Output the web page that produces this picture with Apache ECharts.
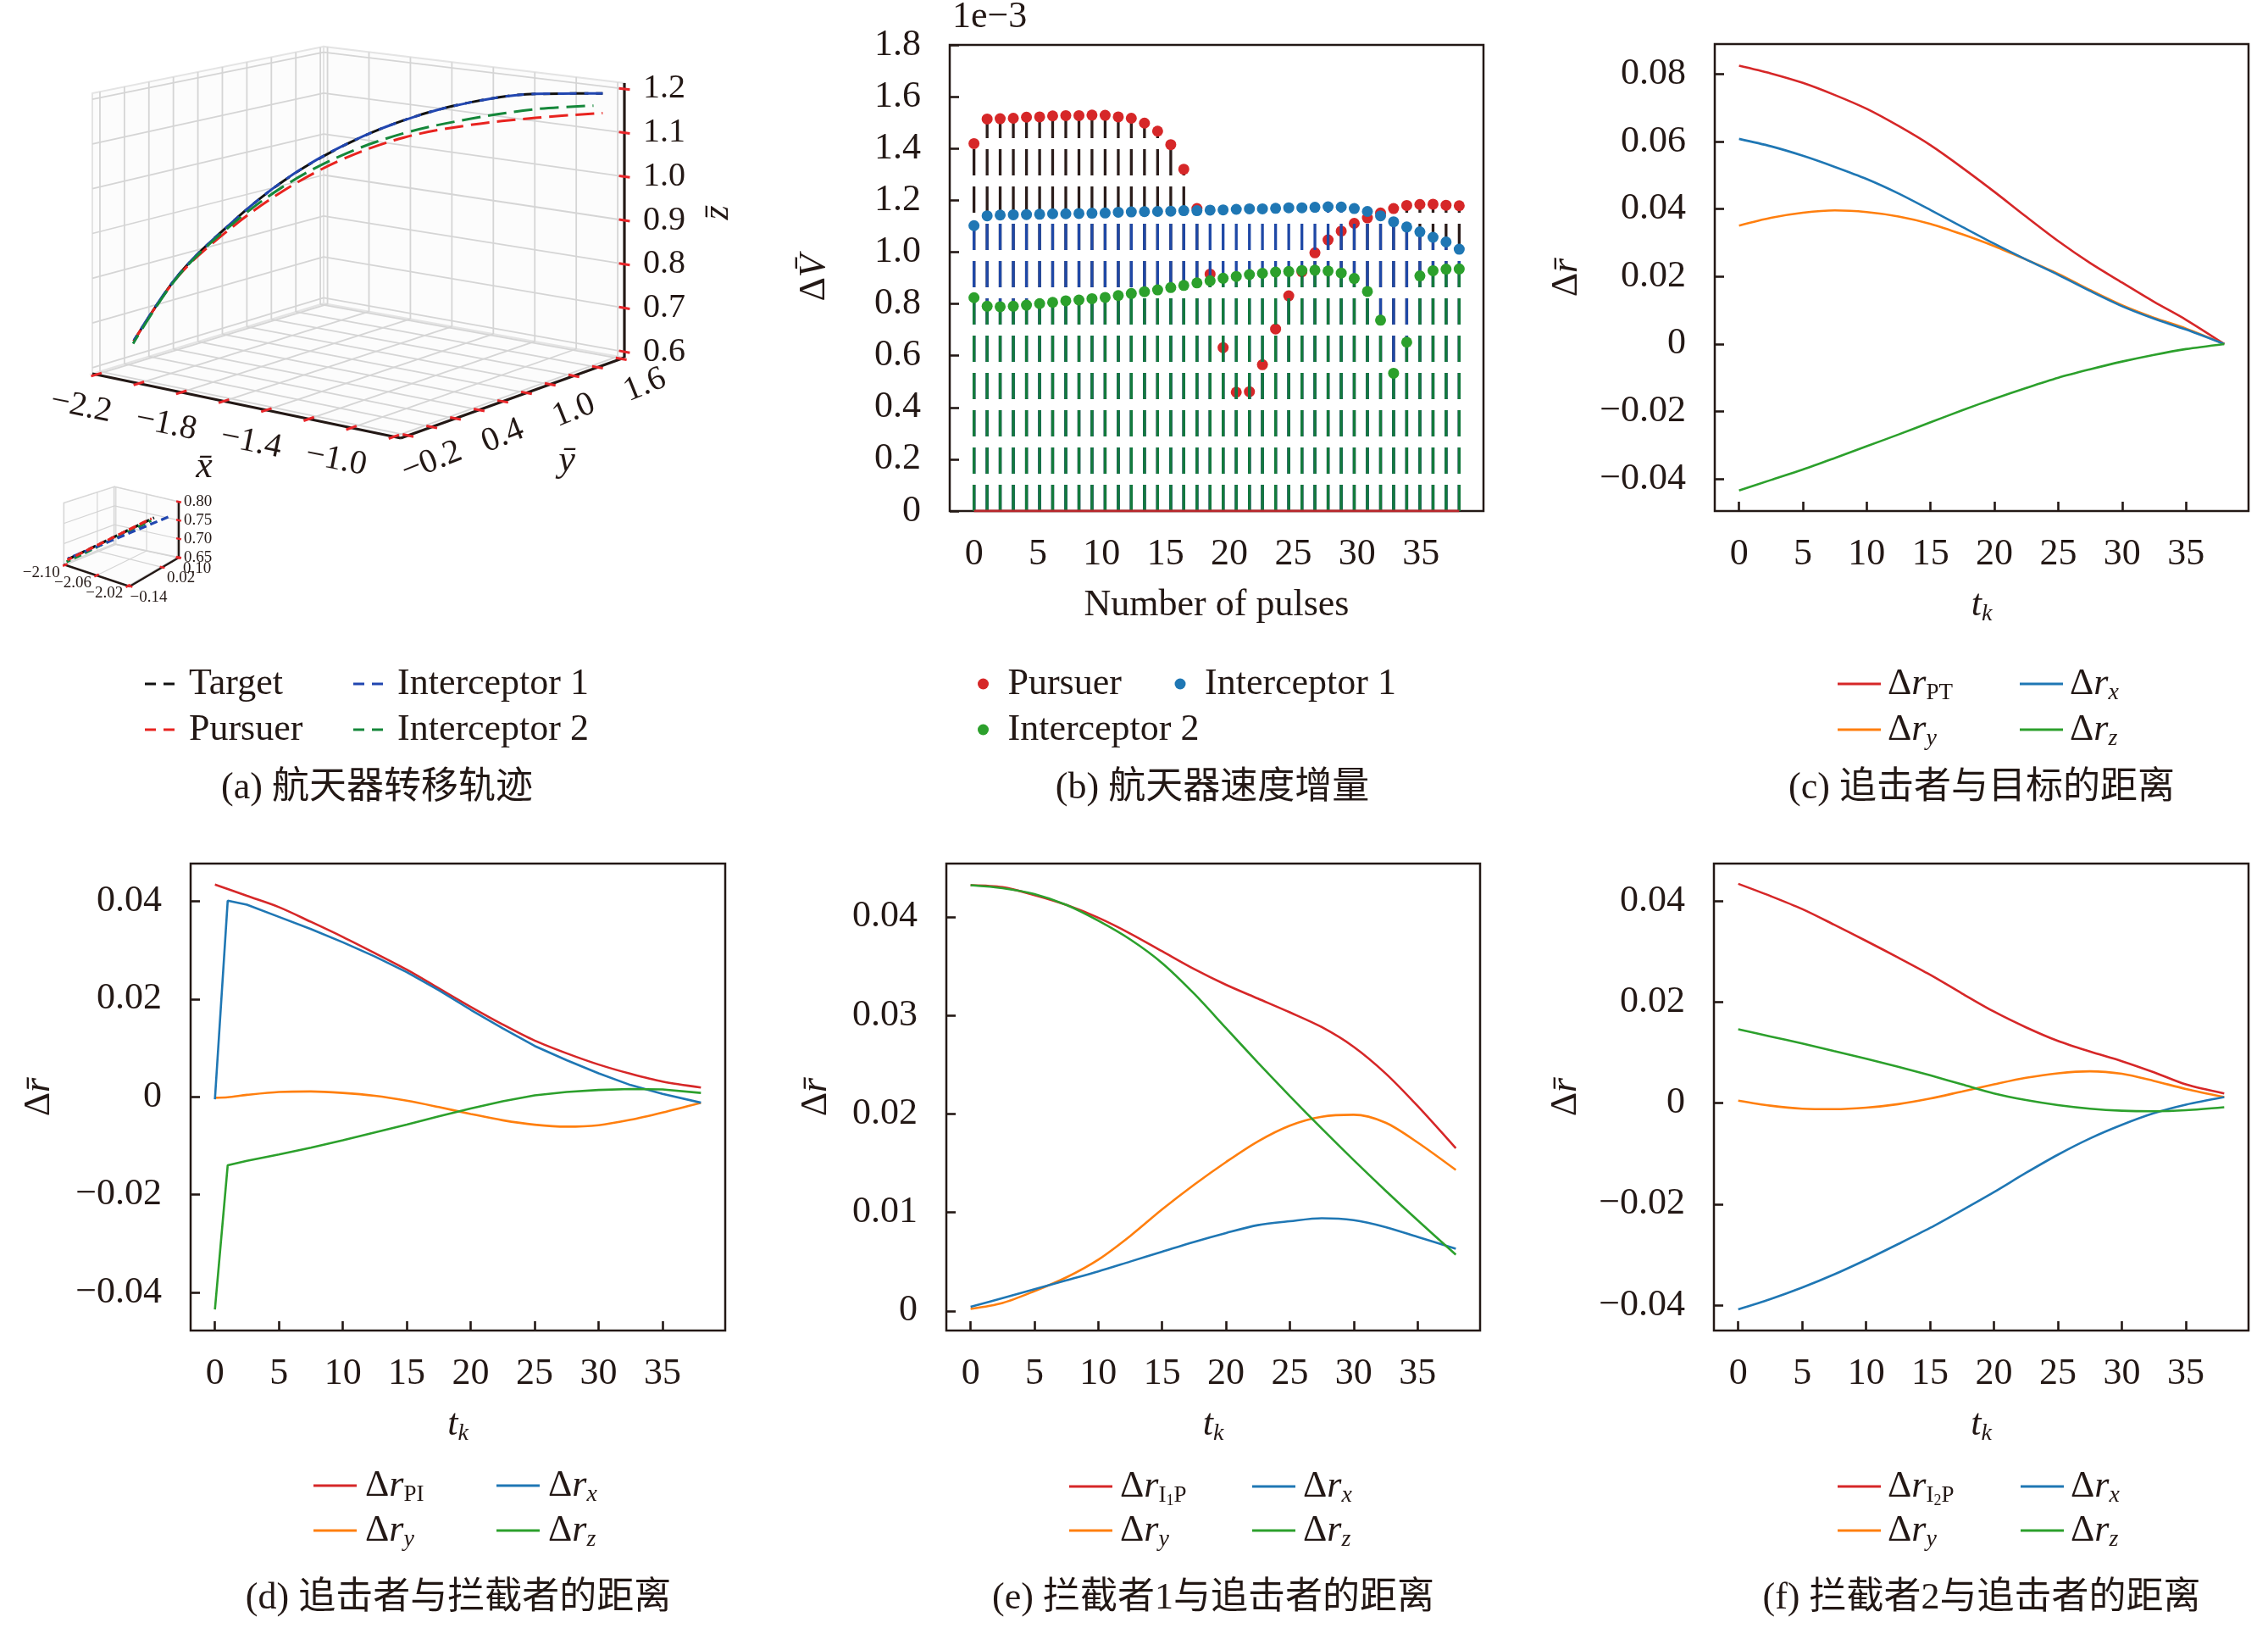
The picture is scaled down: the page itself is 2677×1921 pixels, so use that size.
<!DOCTYPE html>
<html><head><meta charset="utf-8">
<script src="https://cdn.jsdelivr.net/npm/echarts@6/dist/echarts.min.js"></script>
<style>html,body{margin:0;padding:0;background:#fff}#c{width:2677px;height:1921px}</style>
</head><body><div id="c"></div>
<script>
// ================= DATA =================
// (a) spacecraft transfer trajectories, points [x̄, ȳ, z̄]
const trajTarget = [[-2.100,-0.130,0.660],[-2.046,0.133,0.790],[-1.958,0.382,0.890],[-1.837,0.623,0.985],[-1.686,0.852,1.062],[-1.507,1.064,1.122],[-1.304,1.256,1.163],[-1.080,1.426,1.185],[-0.840,1.570,1.190]];
const trajPursuer = [[-2.100,-0.130,0.660],[-2.046,0.133,0.788],[-1.958,0.382,0.880],[-1.837,0.623,0.963],[-1.686,0.852,1.032],[-1.507,1.064,1.082],[-1.304,1.256,1.111],[-1.080,1.426,1.130],[-0.840,1.570,1.145]];
const trajInt1 = [[-2.100,-0.128,0.662],[-2.046,0.135,0.791],[-1.957,0.384,0.891],[-1.836,0.625,0.986],[-1.685,0.853,1.063],[-1.506,1.065,1.122],[-1.303,1.257,1.163],[-1.079,1.427,1.185],[-0.838,1.572,1.190]];
const trajInt2 = [[-2.100,-0.135,0.655],[-2.046,0.133,0.788],[-1.958,0.382,0.886],[-1.837,0.623,0.973],[-1.686,0.852,1.042],[-1.507,1.064,1.092],[-1.304,1.256,1.125],[-1.080,1.426,1.150],[-0.870,1.545,1.162]];
// inset: start of the trajectories
const insetTarget = [[-2.100,-0.130,0.660],[-2.043,0.075,0.752]];
const insetPursuer = [[-2.100,-0.131,0.659],[-2.045,0.070,0.750]];
const insetInt1 = [[-2.100,-0.128,0.662],[-2.030,0.100,0.755]];
const insetInt2 = [[-2.100,-0.135,0.655],[-2.045,0.068,0.745]];
// 3D ticks
const xTicks3D = [-2.2,-2.0,-1.8,-1.6,-1.4,-1.2,-1.0,-0.8];
const xLabels3D = [-2.2,-1.8,-1.4,-1.0];
const yTicks3D = [-0.2,0,0.2,0.4,0.6,0.8,1.0,1.2,1.4,1.6];
const yLabels3D = [-0.2,0.4,1.0,1.6];
const zTicks3D = [0.6,0.7,0.8,0.9,1.0,1.1,1.2];
const xTicksIn = [-2.10,-2.06,-2.02];
const yTicksIn = [-0.14,0.02,0.10];
const zTicksIn = [0.65,0.70,0.75,0.80];

// (b) velocity increments (x 1e-3)
const pulseX = [0,1.03,2.05,3.08,4.11,5.14,6.16,7.19,8.22,9.24,10.27,11.30,12.32,13.35,14.38,15.41,16.43,17.46,18.49,19.51,20.54,21.57,22.59,23.62,24.65,25.68,26.70,27.73,28.76,29.78,30.81,31.84,32.86,33.89,34.92,35.95,36.97,38.00];
const dvPursuer = [1.419,1.514,1.515,1.517,1.521,1.522,1.526,1.527,1.527,1.529,1.528,1.522,1.517,1.498,1.467,1.415,1.320,1.168,0.915,0.631,0.459,0.461,0.565,0.703,0.831,0.924,0.997,1.047,1.081,1.111,1.132,1.151,1.168,1.180,1.184,1.185,1.181,1.179];
const dvInt1 = [1.102,1.140,1.143,1.144,1.145,1.146,1.148,1.148,1.149,1.150,1.151,1.154,1.155,1.156,1.157,1.158,1.160,1.160,1.162,1.163,1.165,1.167,1.167,1.169,1.171,1.171,1.173,1.175,1.174,1.168,1.157,1.140,1.117,1.097,1.078,1.057,1.039,1.011];
const dvInt2 = [0.824,0.791,0.789,0.791,0.795,0.801,0.806,0.812,0.815,0.820,0.825,0.832,0.840,0.847,0.854,0.863,0.871,0.881,0.889,0.899,0.906,0.913,0.918,0.923,0.925,0.929,0.930,0.927,0.919,0.898,0.848,0.737,0.532,0.652,0.908,0.928,0.934,0.935];
const yTicksB = [0,0.2,0.4,0.6,0.8,1.0,1.2,1.4,1.6,1.8];

// time samples
const tk = [0,2.5,5,7.5,10,12.5,15,17.5,20,22.5,25,27.5,30,32.5,35,38];
const tkD = [0,1,2.5,5,7.5,10,12.5,15,17.5,20,22.5,25,27.5,30,32.5,35,38];
const xTicksT = [0,5,10,15,20,25,30,35];

// (c) pursuer - target
const cPT = [0.0825,0.0802,0.0774,0.0738,0.0697,0.0646,0.0589,0.0522,0.0451,0.0377,0.0305,0.0240,0.0182,0.0125,0.0072,0.0000];
const cX  = [0.0608,0.0586,0.0558,0.0525,0.0489,0.0446,0.0397,0.0347,0.0297,0.0250,0.0205,0.0157,0.0112,0.0075,0.0043,0.0000];
const cY  = [0.0351,0.0374,0.0389,0.0396,0.0391,0.0378,0.0356,0.0325,0.0290,0.0250,0.0208,0.0160,0.0115,0.0078,0.0046,0.0000];
const cZ  = [-0.0434,-0.0403,-0.0372,-0.0338,-0.0303,-0.0268,-0.0232,-0.0196,-0.0162,-0.0130,-0.0100,-0.0075,-0.0052,-0.0032,-0.0015,0.0000];
const yTicksC = [-0.04,-0.02,0,0.02,0.04,0.06,0.08];
// (d) pursuer - interceptor
const dPI = [0.0434,0.0425,0.0411,0.0388,0.0358,0.0327,0.0294,0.0260,0.0222,0.0184,0.0148,0.0115,0.0089,0.0066,0.0047,0.0031,0.0019];
const dX  = [-0.0005,0.0401,0.0393,0.0368,0.0343,0.0316,0.0287,0.0255,0.0218,0.0178,0.0140,0.0104,0.0075,0.0048,0.0024,0.0006,-0.0012];
const dY  = [-0.0002,-0.0001,0.0004,0.0010,0.0011,0.0008,0.0002,-0.0008,-0.0021,-0.0035,-0.0048,-0.0057,-0.0061,-0.0058,-0.0047,-0.0032,-0.0012];
const dZ  = [-0.0435,-0.0140,-0.0131,-0.0118,-0.0104,-0.0089,-0.0073,-0.0057,-0.0040,-0.0024,-0.0009,0.0003,0.0010,0.0014,0.0016,0.0015,0.0008];
const yTicksD = [-0.04,-0.02,0,0.02,0.04];
// (e) interceptor 1 - pursuer
const eIP = [0.0432,0.0430,0.0422,0.0412,0.0399,0.0383,0.0365,0.0347,0.0331,0.0317,0.0303,0.0288,0.0268,0.0241,0.0208,0.0165];
const eX  = [0.0004,0.0013,0.0022,0.0031,0.0040,0.0050,0.0060,0.0070,0.0079,0.0087,0.0091,0.0094,0.0092,0.0085,0.0075,0.0063];
const eY  = [0.0002,0.0008,0.0020,0.0034,0.0052,0.0076,0.0103,0.0128,0.0151,0.0172,0.0188,0.0197,0.0199,0.0191,0.0171,0.0143];
const eZ  = [0.0432,0.0429,0.0423,0.0412,0.0396,0.0377,0.0353,0.0322,0.0287,0.0252,0.0218,0.0185,0.0153,0.0122,0.0092,0.0057];
const yTicksE = [0,0.01,0.02,0.03,0.04];
// (f) interceptor 2 - pursuer
const fIP = [0.0434,0.0410,0.0384,0.0353,0.0321,0.0288,0.0254,0.0217,0.0181,0.0150,0.0123,0.0102,0.0083,0.0061,0.0037,0.0019];
const fX  = [-0.0408,-0.0388,-0.0365,-0.0339,-0.0310,-0.0279,-0.0247,-0.0212,-0.0176,-0.0138,-0.0102,-0.0070,-0.0043,-0.0020,-0.0003,0.0012];
const fY  = [0.0005,-0.0005,-0.0011,-0.0012,-0.0009,-0.0002,0.0009,0.0023,0.0037,0.0050,0.0059,0.0063,0.0058,0.0044,0.0028,0.0012];
const fZ  = [0.0146,0.0132,0.0118,0.0103,0.0088,0.0072,0.0055,0.0037,0.0019,0.0006,-0.0004,-0.0011,-0.0015,-0.0016,-0.0014,-0.0008];
const yTicksF = [-0.04,-0.02,0,0.02,0.04];

const captions = ['(a) 航天器转移轨迹','(b) 航天器速度增量','(c) 追击者与目标的距离','(d) 追击者与拦截者的距离','(e) 拦截者1与追击者的距离','(f) 拦截者2与追击者的距离'];

// ================= STYLE / LAYOUT =================
const INK = '#231815';
const SERIF = "'Liberation Serif','DejaVu Serif',serif";
const CAPF = "'Liberation Serif','Noto Sans CJK SC',serif";
const COL = {red:'#d62728', blue:'#1f77b4', orange:'#ff7f0e', green:'#2ca02c'};
const C3 = {k:'#111111', r:'#e8231f', b:'#2146b0', g:'#15873a'};
const STEM = {p:'#2a1c1a', i1:'#1f48a6', i2:'#137a3c'};

// 3D view (projection layout in view units of the hidden grid 0)
const VIEW = {
  main: {x:[-2.2187,-0.7677], y:[-0.262,1.627], z:[0.5865,1.2135],
         corners:[[109,441],[473,517],[737,422],[382,358]], heights:[331,345,324,303],
         gridW:1.8, edgeW:2, axisW:3.2, tickL:13, tickW:3, font:40,
         xOff:[-18,38], xRot:-0.2, yOff:[28,31], yRot:0.38, zOff:[22,0]},
  inset:{x:[-2.102,-2.018], y:[-0.142,0.102], z:[0.649,0.801],
         corners:[[75,666],[153,692],[211,658],[135,642]], heights:[72.7,75,66.3,68],
         gridW:1.2, edgeW:1.2, axisW:2.5, tickL:6, tickW:2.5, font:19,
         xOff:[-28,9], xRot:0, yOff:[22,13], yRot:0, zOff:[6,0]}
};
function project(B, p){
  const X=(p[0]-B.x[0])/(B.x[1]-B.x[0]), Y=(p[1]-B.y[0])/(B.y[1]-B.y[0]), Z=(p[2]-B.z[0])/(B.z[1]-B.z[0]);
  const w=[(1-X)*(1-Y), X*(1-Y), X*Y, (1-X)*Y];
  let u=0,v=0,h=0;
  for(let i=0;i<4;i++){u+=w[i]*B.corners[i][0]; v+=w[i]*B.corners[i][1]; h+=w[i]*B.heights[i];}
  return [u, v - Z*h];
}
const fmtN = (v,d) => (v<0?'−':'') + Math.abs(v).toFixed(d);

function boxElements(api, B, ticks, labels, showTitles){
  const P = p => api.coord(project(B,p));
  const els = [];
  const [x0,x1]=B.x, [y0,y1]=B.y, [z0,z1]=B.z;
  const seg=(a,b,style)=>{const p=P(a),q=P(b);els.push({type:'line',shape:{x1:p[0],y1:p[1],x2:q[0],y2:q[1]},style});};
  const poly=pts=>els.push({type:'polygon',shape:{points:pts.map(P)},style:{fill:'#fcfcfc',stroke:'#e4e4e4',lineWidth:B.edgeW}});
  poly([[x0,y0,z0],[x1,y0,z0],[x1,y1,z0],[x0,y1,z0]]);
  poly([[x0,y0,z0],[x0,y1,z0],[x0,y1,z1],[x0,y0,z1]]);
  poly([[x0,y1,z0],[x1,y1,z0],[x1,y1,z1],[x0,y1,z1]]);
  const g={stroke:'#d5d5d5',lineWidth:B.gridW};
  ticks.x.forEach(x=>{seg([x,y0,z0],[x,y1,z0],g);seg([x,y1,z0],[x,y1,z1],g);});
  ticks.y.forEach(y=>{seg([x0,y,z0],[x1,y,z0],g);seg([x0,y,z0],[x0,y,z1],g);});
  ticks.z.forEach(z=>{seg([x0,y0,z],[x0,y1,z],g);seg([x0,y1,z],[x1,y1,z],g);});
  const ax={stroke:INK,lineWidth:B.axisW};
  seg([x0,y0,z0],[x1,y0,z0],ax); seg([x1,y0,z0],[x1,y1,z0],ax); seg([x1,y1,z0],[x1,y1,z1],ax);
  const tk=(p,q)=>{const a=P(p),b=P(q);let dx=b[0]-a[0],dy=b[1]-a[1];const L=Math.hypot(dx,dy)||1;dx*=B.tickL/2/L;dy*=B.tickL/2/L;
    els.push({type:'line',shape:{x1:a[0]-dx,y1:a[1]-dy,x2:a[0]+dx,y2:a[1]+dy},style:{stroke:'#e8262a',lineWidth:B.tickW}});};
  const ddx=(x1-x0)*0.05, ddy=(y1-y0)*0.05;
  ticks.x.forEach(x=>tk([x,y0,z0],[x,y0+ddy,z0]));
  ticks.y.forEach(y=>tk([x1,y,z0],[x1-ddx,y,z0]));
  ticks.z.forEach(z=>tk([x1,y1,z],[x1-ddx,y1,z]));
  const txt=(pt,off,rot,s,align)=>els.push({type:'text',x:pt[0]+off[0],y:pt[1]+off[1],rotation:rot,
    style:{text:s,fill:INK,fontSize:B.font,fontFamily:SERIF,align:align||'center',verticalAlign:'middle',textAlign:align||'center',textVerticalAlign:'middle'}});
  labels.x.forEach(v=>txt(P([v,y0,z0]),B.xOff,B.xRot,fmtN(v,labels.d)));
  labels.y.forEach(v=>txt(P([x1,v,z0]),B.yOff,B.yRot,fmtN(v,labels.d)));
  labels.z.forEach(v=>txt(P([x1,y1,v]),B.zOff,0,fmtN(v,labels.d),'left'));
  if(showTitles){
    const it=(pt,off,rot,s)=>els.push({type:'text',x:pt[0]+off[0],y:pt[1]+off[1],rotation:rot,
      style:{text:s,fill:INK,fontSize:44,fontStyle:'italic',fontFamily:SERIF,align:'center',verticalAlign:'middle',textAlign:'center',textVerticalAlign:'middle'}});
    it(P([(x0+x1)/2,y0,z0]),[-50,72],0,'x\u0304');
    it(P([x1,(y0+y1)/2,z0]),[64,75],0,'y\u0304');
    it(P([x1,y1,(z0+z1)/2]),[110,-9],Math.PI/2,'z\u0304');
  }
  return els;
}

const RICH = {
  d:{fontFamily:SERIF,fontSize:44,color:INK,lineHeight:50,verticalAlign:'middle'},
  r:{fontFamily:SERIF,fontSize:44,fontStyle:'italic',color:INK,lineHeight:50,verticalAlign:'middle'},
  s:{fontFamily:SERIF,fontSize:27,color:INK,lineHeight:26,padding:[22,0,0,0],verticalAlign:'middle'},
  si:{fontFamily:SERIF,fontSize:28,fontStyle:'italic',color:INK,lineHeight:26,padding:[22,0,0,0],verticalAlign:'middle'},
  ss:{fontFamily:SERIF,fontSize:18,color:INK,lineHeight:18,padding:[34,0,0,0],verticalAlign:'middle'}
};
const LEG_TXT = {
  'Target':'Target','Pursuer':'Pursuer','Interceptor 1':'Interceptor 1','Interceptor 2':'Interceptor 2',
  'b:Pursuer':'Pursuer','b:Interceptor 1':'Interceptor 1','b:Interceptor 2':'Interceptor 2',
  'c:PT':'{d|Δ}{r|r}{s|PT}','d:PI':'{d|Δ}{r|r}{s|PI}',
  'e:IP':'{d|Δ}{r|r}{s|I}{ss|1}{s|P}','f:IP':'{d|Δ}{r|r}{s|I}{ss|2}{s|P}'
};
['c','d','e','f'].forEach(p=>{LEG_TXT[p+':x']='{d|Δ}{r|r}{si|x}';LEG_TXT[p+':y']='{d|Δ}{r|r}{si|y}';LEG_TXT[p+':z']='{d|Δ}{r|r}{si|z}';});

const ICON_LINE = 'path://M0,0H51V3H0Z';
const ICON_DASH = 'path://M0,0H13V3H0Z M22,0H35V3H22Z';
function legendRow(left, top, names, iconW, iconH, pad, textW, icon){
  return {left, top, orient:'horizontal', itemWidth:iconW, itemHeight:iconH, itemGap:10, selectedMode:false,
    data:names.map(n=>({name:n, icon})), formatter:n=>LEG_TXT[n],
    textStyle:{fontFamily:SERIF,fontSize:44,color:INK,lineHeight:50,width:textW,padding:[0,0,0,pad],rich:RICH}};
}

function xAxisCfg(gi, showTick, nameTxt){
  return {type:'value', gridIndex:gi, min:-1.9, max:39.9,
    axisLine:{show:false, onZero:false}, splitLine:{show:false},
    axisTick:{show:showTick, inside:true, length:11, lineStyle:{color:INK,width:2.6}, customValues:xTicksT},
    axisLabel:{customValues:xTicksT, margin:29, fontSize:44, fontFamily:SERIF, color:INK, formatter:v=>String(v)},
    name:nameTxt, nameLocation:'middle', nameGap:111,
    nameTextStyle:{fontFamily:SERIF,fontSize:44,color:INK,verticalAlign:'middle',rich:{
      t:{fontFamily:SERIF,fontSize:44,fontStyle:'italic',color:INK,lineHeight:50,verticalAlign:'middle'},
      k:{fontFamily:SERIF,fontSize:28,fontStyle:'italic',color:INK,lineHeight:26,padding:[22,0,0,0],verticalAlign:'middle'}}}};
}
function yAxisCfg(gi, min, max, ticks, dec, nameTxt, gap){
  return {type:'value', gridIndex:gi, min, max,
    axisLine:{show:false, onZero:false}, splitLine:{show:false},
    axisTick:{show:true, inside:true, length:11, lineStyle:{color:INK,width:2.6}, customValues:ticks},
    axisLabel:{customValues:ticks, margin:34, fontSize:44, fontFamily:SERIF, color:INK, formatter:v=>Math.abs(v)<1e-12?'0':fmtN(v,dec)},
    name:nameTxt, nameLocation:'middle', nameGap:gap, nameRotate:90,
    nameTextStyle:{fontFamily:SERIF,fontSize:44,color:INK,verticalAlign:'middle',align:'center',rich:RICH}};
}
function lineS(name, gi, xs, ys, color, smooth){
  return {type:'line', name, xAxisIndex:gi, yAxisIndex:gi, data:xs.map((x,i)=>[x,ys[i]]),
    symbol:'none', smooth:smooth===undefined?0.3:smooth, lineStyle:{color, width:2.6}, itemStyle:{color}, silent:true, z:3};
}
function stemS(name, values, stemColor, dotColor){
  return {type:'custom', name, xAxisIndex:1, yAxisIndex:1, itemStyle:{color:dotColor}, silent:true,
    data:pulseX.map((x,i)=>[x,values[i]]),
    renderItem:(params, api)=>{
      const x=api.value(0), v=api.value(1);
      const p0=api.coord([x,0]), p1=api.coord([x,v]);
      return {type:'group', children:[
        {type:'line', shape:{x1:p0[0],y1:p0[1],x2:p1[0],y2:p1[1]}, style:{stroke:stemColor,lineWidth:3.3,lineDash:[31,13]}},
        {type:'circle', shape:{cx:p1[0],cy:p1[1],r:6.5}, style:{fill:dotColor}}
      ]};
    }};
}
function traj3D(name, pts, B, color, dash, width, offset){
  return {type:'line', name, xAxisIndex:0, yAxisIndex:0, data:pts.map(p=>project(B,p)),
    symbol:'none', smooth:B===VIEW.main?0.35:0, lineStyle:{color, width, type:dash, dashOffset:offset||0}, itemStyle:{color}, silent:true, z:4};
}

const yNameR = '{d|Δ}{r|r\u0304}';
const xNameT = '{t|t}{k|k}';
const gridBox = {show:true, borderColor:INK, borderWidth:2.5, backgroundColor:'transparent', outerBoundsMode:'none'};

const option = {
  animation:false, backgroundColor:'#ffffff',
  textStyle:{fontFamily:SERIF},
  grid:[
    {left:0, top:0, width:900, height:760, show:false, outerBoundsMode:'none'},
    Object.assign({left:1121, top:53, width:630, height:550}, gridBox),
    Object.assign({left:2024, top:52, width:630, height:551}, gridBox),
    Object.assign({left:225, top:1019, width:631, height:551}, gridBox),
    Object.assign({left:1117, top:1019, width:630, height:551}, gridBox),
    Object.assign({left:2023, top:1019, width:631, height:551}, gridBox)
  ],
  xAxis:[
    {type:'value', gridIndex:0, min:0, max:900, show:false},
    xAxisCfg(1,false,'Number of pulses'),
    xAxisCfg(2,true,xNameT), xAxisCfg(3,true,xNameT), xAxisCfg(4,true,xNameT), xAxisCfg(5,true,xNameT)
  ],
  yAxis:[
    {type:'value', gridIndex:0, min:0, max:760, inverse:true, show:false},
    yAxisCfg(1,0,1.8,yTicksB,1,'{d|Δ}{r|V\u0304}',160),
    yAxisCfg(2,-0.0495,0.0889,yTicksC,2,yNameR,175),
    yAxisCfg(3,-0.0478,0.0477,yTicksD,2,yNameR,179),
    yAxisCfg(4,-0.0020,0.0454,yTicksE,2,yNameR,154),
    yAxisCfg(5,-0.0450,0.0474,yTicksF,2,yNameR,175)
  ],
  legend:[
    legendRow(166,777,['Target','Interceptor 1'],35,3,12,184,ICON_DASH),
    legendRow(166,831,['Pursuer','Interceptor 2'],35,3,12,184,ICON_DASH),
    legendRow(1149,777,['b:Pursuer','b:Interceptor 1'],44,13,2,187,'circle'),
    legendRow(1149,831,['b:Interceptor 2'],44,13,2,187,'circle'),
    legendRow(2164,777,['c:PT','c:x'],51,3,3,146,ICON_LINE),
    legendRow(2164,831,['c:y','c:z'],51,3,3,146,ICON_LINE),
    legendRow(365,1723,['d:PI','d:x'],51,3,5,145,ICON_LINE),
    legendRow(365,1776,['d:y','d:z'],51,3,5,145,ICON_LINE),
    legendRow(1257,1723,['e:IP','e:x'],51,3,4,146,ICON_LINE),
    legendRow(1257,1776,['e:y','e:z'],51,3,4,146,ICON_LINE),
    legendRow(2164,1723,['f:IP','f:x'],51,3,3,147,ICON_LINE),
    legendRow(2164,1776,['f:y','f:z'],51,3,3,147,ICON_LINE)
  ],
  graphic:[
    {type:'text', x:1124, y:42, style:{text:'1e−3', fill:INK, font:`44px ${SERIF}`, align:'left', verticalAlign:'bottom', textAlign:'left', textVerticalAlign:'bottom'}},
    ...[[445,930],[1431,930],[2339,930],[541,1886],[1432,1886],[2339,1886]].map((p,i)=>({type:'text', x:p[0], y:p[1],
      style:{text:captions[i], fill:INK, font:`44px ${CAPF}`, align:'center', verticalAlign:'middle', textAlign:'center', textVerticalAlign:'middle'}}))
  ],
  series:[
    {type:'custom', name:'box3d', xAxisIndex:0, yAxisIndex:0, silent:true, z:1, data:[[0,0]],
      renderItem:(params, api)=>({type:'group', children:[
        ...boxElements(api, VIEW.main, {x:xTicks3D,y:yTicks3D,z:zTicks3D}, {x:xLabels3D,y:yLabels3D,z:zTicks3D,d:1}, true),
        ...boxElements(api, VIEW.inset, {x:xTicksIn,y:yTicksIn,z:zTicksIn}, {x:xTicksIn,y:yTicksIn,z:zTicksIn,d:2}, false)
      ]})},
    traj3D('Target', trajTarget, VIEW.main, C3.k, [22,9], 3),
    traj3D('Pursuer', trajPursuer, VIEW.main, C3.r, [22,9], 3, 6),
    traj3D('Interceptor 1', trajInt1, VIEW.main, C3.b, [22,9], 3, 15),
    traj3D('Interceptor 2', trajInt2, VIEW.main, C3.g, [22,9], 3, 10),
    traj3D('in:T', insetTarget, VIEW.inset, C3.k, [9,5], 3.2),
    traj3D('in:G', insetInt2, VIEW.inset, C3.g, [9,5], 3.2, 4),
    traj3D('in:B', insetInt1, VIEW.inset, C3.b, [9,5], 3.2, 7),
    traj3D('in:R', insetPursuer, VIEW.inset, C3.r, [9,5], 3.2, 3),
    stemS('b:Pursuer', dvPursuer, STEM.p, COL.red),
    stemS('b:Interceptor 1', dvInt1, STEM.i1, COL.blue),
    stemS('b:Interceptor 2', dvInt2, STEM.i2, COL.green),
    {type:'line', name:'b:base', xAxisIndex:1, yAxisIndex:1, data:[[pulseX[0],0],[pulseX[pulseX.length-1],0]], symbol:'none', lineStyle:{color:'#b8262b',width:3}, silent:true, z:5},
    lineS('c:PT',2,tk,cPT,COL.red), lineS('c:y',2,tk,cY,COL.orange), lineS('c:x',2,tk,cX,COL.blue), lineS('c:z',2,tk,cZ,COL.green),
    lineS('d:PI',3,tkD,dPI,COL.red), lineS('d:y',3,tkD,dY,COL.orange), lineS('d:x',3,tkD,dX,COL.blue,false), lineS('d:z',3,tkD,dZ,COL.green,false),
    lineS('e:IP',4,tk,eIP,COL.red), lineS('e:y',4,tk,eY,COL.orange), lineS('e:x',4,tk,eX,COL.blue), lineS('e:z',4,tk,eZ,COL.green),
    lineS('f:IP',5,tk,fIP,COL.red), lineS('f:y',5,tk,fY,COL.orange), lineS('f:x',5,tk,fX,COL.blue), lineS('f:z',5,tk,fZ,COL.green)
  ]
};
const chart = echarts.init(document.getElementById('c'), null, {renderer:'canvas', width:2677, height:1921});
chart.setOption(option);
</script></body></html>
